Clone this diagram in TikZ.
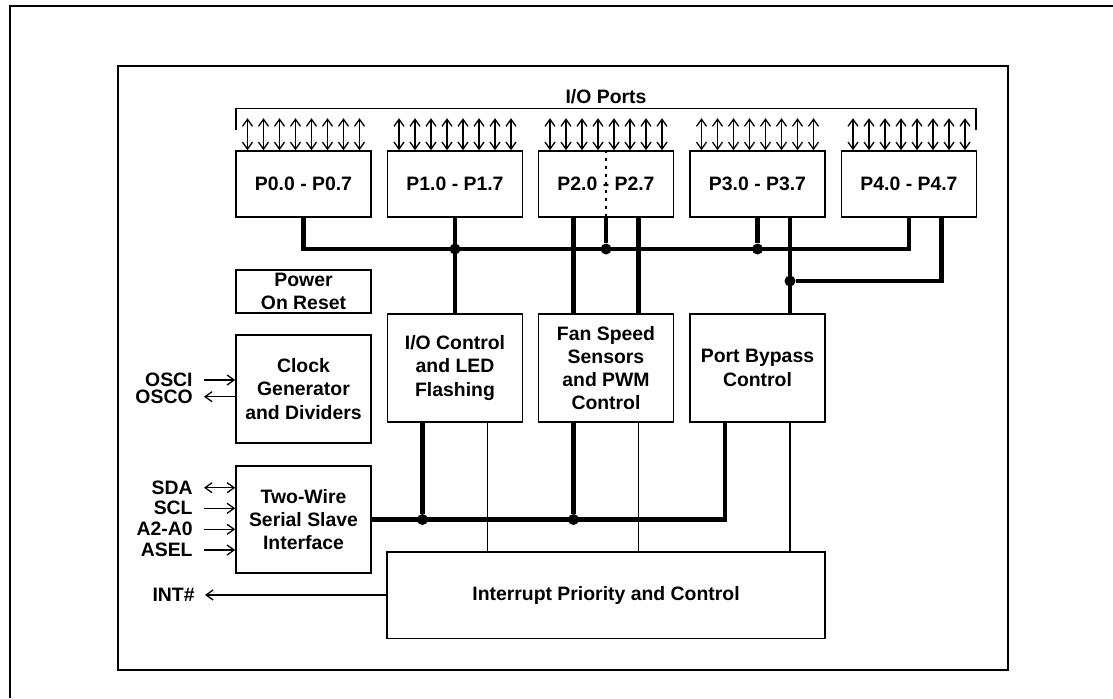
\documentclass[tikz,border=0pt]{standalone}
\usepackage{fontspec}
\setmainfont{Liberation Sans}
\usetikzlibrary{arrows.meta}

\begin{document}
\begin{tikzpicture}[x=0.5pt, y=-0.5pt,
  font=\bfseries\fontsize{9.7}{11.6}\selectfont,
  >={Straight Barb[length=3.5pt,width=5pt]},
  blk/.style={draw, line width=0.8pt, minimum width=67.5pt, inner sep=0pt, align=center},
  bus/.style={line width=2.2pt},
  wire/.style={line width=0.65pt},
  pin/.style={wire, <->},
  dot/.style={circle, fill=black, inner sep=0pt, minimum size=5.5pt},
  sig/.style={anchor=east, inner sep=0pt}]
\useasboundingbox (0,0) rectangle (1113,698);
\draw[line width=1.3pt] (10,698) -- (10,6) -- (1113,6);
\draw[line width=0.9pt] (118,66) rectangle (1008,670);

% port blocks and pins
\foreach \i/\x in {0/303.5,1/455,2/606,3/757.5,4/909}
  \node [blk, minimum height=33pt] (p\i) at (\x,184) {P\i.0 - P\i.7};
\foreach \i in {0,...,4}
  \foreach \k in {0,...,7}
    \draw[pin] ([xshift=\k*8pt-28pt]p\i.north) -- ++(0,-32);
\draw[wire] (236,130) |- (976,108.5) -- (976,130);
\node (ports) at (606,97) {I/O Ports};
\draw[wire, dash pattern=on 1.2pt off 2.8pt] (p2.north) -- (p2.south);

% blocks
\node [blk, minimum height=21.5pt] (por) at (303.5,291.5) {Power\\On Reset};
\node [blk, minimum height=54pt] (clk) at (303.5,389) {Clock\\Generator\\and Dividers};
\node [blk, minimum height=53.5pt] (tws) at (303.5,519.5) {Two-Wire\\Serial Slave\\Interface};
\node [blk, minimum height=54pt] (ioc) at (455,368) {I/O Control\\and LED\\Flashing};
\node [blk, minimum height=54pt] (fan) at (606,368) {Fan Speed\\Sensors\\and PWM\\Control};
\node [blk, minimum height=54pt] (pbc) at (757.5,368) {Port Bypass\\Control};
\node [blk, minimum width=219pt, minimum height=43.3pt] (ipc) at (606,595) {Interrupt Priority and Control};

% port bus
\coordinate (bl) at (303.5,249);
\coordinate (br) at (909,249);
\draw[bus] (p0.south) -- (bl) -- (br) -- (p4.south);
\node[dot] (j1) at (455,249) {};
\node[dot] (j2) at (606,249) {};
\node[dot] (j3) at (757.5,249) {};
\node[dot] (j4) at (790,281) {};
\draw[bus] (p1.south) -- (ioc.north);
\draw[bus] (p2.south) -- (j2);
\draw[bus] (p3.south) -- (j3);
\draw[bus] ([xshift=-16.25pt]p2.south) -- ([xshift=-16.25pt]fan.north);
\draw[bus] ([xshift=16.25pt]p2.south) -- ([xshift=16.25pt]fan.north);
\draw[bus] ([xshift=16.25pt]p3.south) -- ([xshift=16.25pt]pbc.north);
\draw[bus] ([xshift=16.25pt]p4.south) |- (j4);

% internal bus
\coordinate (lb) at (725,519.5);
\node[dot] (j5) at (422.5,519.5) {};
\node[dot] (j6) at (573.5,519.5) {};
\draw[bus] (tws.east) -- (lb) -- ([xshift=-16.25pt]pbc.south);
\draw[bus] ([xshift=-16.25pt]ioc.south) -- (j5);
\draw[bus] ([xshift=-16.25pt]fan.south) -- (j6);
\draw[wire] ([xshift=16.25pt]ioc.south) -- ([xshift=-59.25pt]ipc.north);
\draw[wire] ([xshift=16.25pt]fan.south) -- ([xshift=16.25pt]ipc.north);
\draw[wire] ([xshift=16.25pt]pbc.south) -- ([xshift=92pt]ipc.north);

% external signals
\node [sig] (osci) at (193,380) {OSCI};
\node [sig] (osco) at (193,396.7) {OSCO};
\node [sig] (sda) at (193,487.7) {SDA};
\node [sig] (scl) at (193,508.3) {SCL};
\node [sig] (addr) at (193,529.3) {A2-A0};
\node [sig] (asel) at (193,550) {ASEL};
\node [sig] (int) at (195,595) {INT\#};
\draw[wire, ->, shorten <=5.5pt] (osci.east) -- (osci.east -| clk.west);
\draw[wire, <-, shorten <=5.5pt] (osco.east) -- (osco.east -| clk.west);
\draw[wire, <->, shorten <=5.5pt] (sda.east) -- (sda.east -| tws.west);
\draw[wire, ->, shorten <=5.5pt] (scl.east) -- (scl.east -| tws.west);
\draw[wire, ->, shorten <=5.5pt] (addr.east) -- (addr.east -| tws.west);
\draw[wire, ->, shorten <=5.5pt] (asel.east) -- (asel.east -| tws.west);
\draw[wire, <-, shorten <=5pt] (int.east) -- (int.east -| ipc.west);
\end{tikzpicture}
\end{document}
